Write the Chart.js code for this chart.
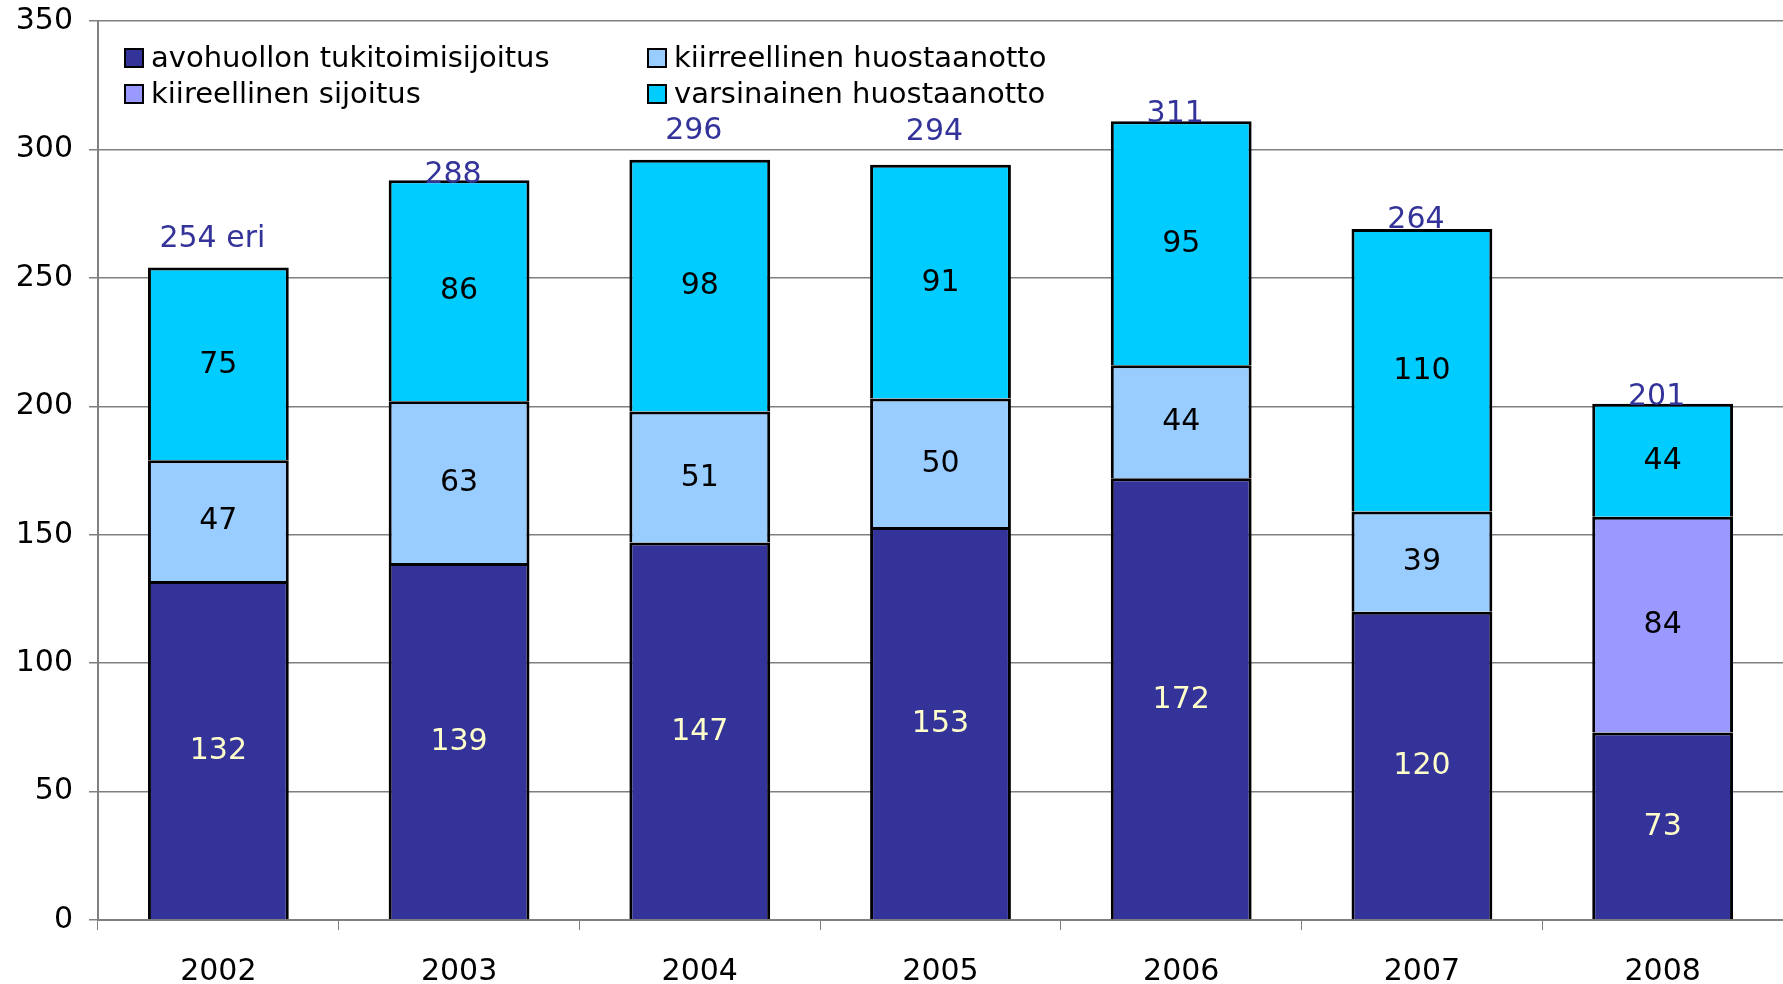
<!DOCTYPE html>
<html>
<head>
<meta charset="utf-8">
<script src="https://cdn.jsdelivr.net/npm/chart.js@4.4.1/dist/chart.umd.min.js"></script>
<style>
  body { margin: 0; background: #fff; }
  #wrap { width: 1783px; height: 984px; position: relative; }
</style>
</head>
<body>
<div id="wrap"><canvas id="bar"></canvas></div>
<script>
//! data -----------------------------------------
let years = ["2002", "2003", "2004", "2005", "2006", "2007", "2008"];
let avohuolto = [132, 139, 147, 153, 172, 120, 73];
let kiirSijoitus = [null, null, null, null, null, null, 84];
let kiirHuostaanotto = [47, 63, 51, 50, 44, 39, null];
let varsinainen = [75, 86, 98, 91, 95, 110, 44];
let totalLabels = ["254 eri", "288", "296", "294", "311", "264", "201"];

// how far each total label sits above its bar (px), excel put them unevenly
let labelLift = [28, 5, 28, 33, 7, 9, 7];

let FONT = "'DejaVu Sans', sans-serif";

//! labels inside the segments + totals on top ----------
let valueLabels = {
  id: "valueLabels",
  afterDatasetsDraw(chart) {
    let ctx = chart.ctx;
    ctx.save();
    ctx.font = "30px " + FONT;
    ctx.textAlign = "center";
    ctx.textBaseline = "middle";
    chart.data.datasets.forEach((ds, i) => {
      let meta = chart.getDatasetMeta(i);
      meta.data.forEach((bar, j) => {
        if (ds.data[j] == null) return;
        ctx.fillStyle = i === 0 ? "#FFFFCC" : "#000000";
        ctx.fillText(ds.data[j], bar.x, (bar.y + bar.base) / 2 + 1);
      });
    });
    // totals
    ctx.fillStyle = "#333399";
    let last = chart.getDatasetMeta(chart.data.datasets.length - 1);
    last.data.forEach((bar, j) => {
      ctx.fillText(totalLabels[j], bar.x - 6, bar.y - labelLift[j]);
    });
    ctx.restore();
  },
};

//! legend in two columns inside the plot ----------
let boxLegend = {
  id: "boxLegend",
  afterDraw(chart) {
    let ctx = chart.ctx;
    let order = [0, 2, 1, 3];
    let colX = [125, 648];
    let rowY = [58, 94];
    ctx.save();
    ctx.font = "29px " + FONT;
    ctx.textBaseline = "middle";
    ctx.textAlign = "left";
    order.forEach((dsIndex, k) => {
      let ds = chart.data.datasets[dsIndex];
      let x = colX[k % 2];
      let y = rowY[Math.floor(k / 2)];
      ctx.fillStyle = ds.backgroundColor;
      ctx.fillRect(x, y - 9, 18, 18);
      ctx.lineWidth = 2;
      ctx.strokeStyle = "#000";
      ctx.strokeRect(x, y - 9, 18, 18);
      ctx.fillStyle = "#000";
      ctx.fillText(ds.label, x + 26, y + 1);
    });
    ctx.restore();
  },
};

let barcht = document.getElementById("bar").getContext("2d");

let common = {
  borderColor: "#000000",
  borderWidth: 3,
  borderSkipped: "start",
  barPercentage: 0.585,
  categoryPercentage: 1,
};

let MyBarChart = new Chart(barcht, {
  type: "bar",
  data: {
    labels: years,
    datasets: [
      { label: "avohuollon tukitoimisijoitus", data: avohuolto, backgroundColor: "#333399", ...common },
      { label: "kiireellinen sijoitus", data: kiirSijoitus, backgroundColor: "#9999FF", ...common },
      { label: "kiirreellinen huostaanotto", data: kiirHuostaanotto, backgroundColor: "#99CCFF", ...common },
      { label: "varsinainen huostaanotto", data: varsinainen, backgroundColor: "#00CCFF", ...common },
    ],
  },
  options: {
    responsive: true,
    maintainAspectRatio: false,
    animation: false,
    layout: { padding: { top: 21, right: 0, bottom: 0, left: 0 } },
    plugins: {
      legend: { display: false },
      tooltip: { enabled: false },
    },
    scales: {
      x: {
        stacked: true,
        grid: { drawOnChartArea: false, color: "#808080", tickLength: 10, offset: true },
        border: { color: "#808080", width: 2 },
        ticks: { color: "#000", font: { family: FONT, size: 30 }, padding: 24 },
        afterFit(scale) { scale.height = 64; },
      },
      y: {
        stacked: true,
        min: 0,
        max: 350,
        ticks: { stepSize: 50, color: "#000", font: { family: FONT, size: 30 }, padding: 16 },
        grid: { color: "#808080", lineWidth: 1.5, tickLength: 9 },
        border: { color: "#808080", width: 2 },
        afterFit(scale) {
          scale.width = 98;
          scale.paddingTop = 0;
          scale.paddingBottom = 0;
        },
      },
    },
  },
  plugins: [valueLabels, boxLegend],
});
</script>
</body>
</html>
